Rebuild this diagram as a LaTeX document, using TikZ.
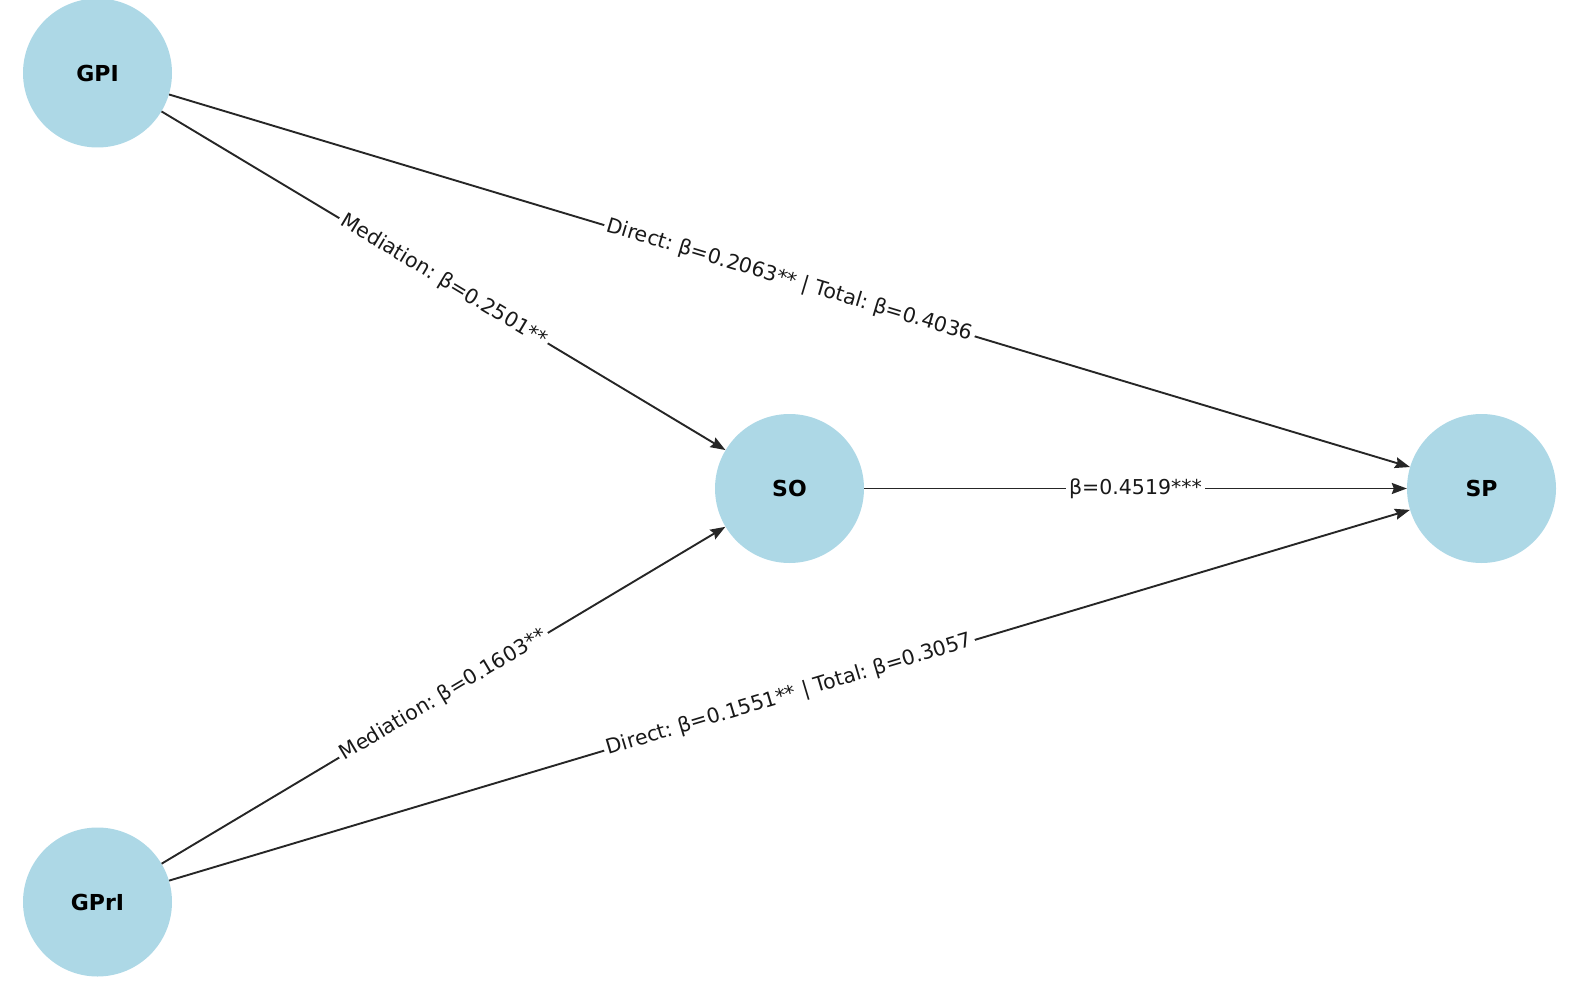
\documentclass[tikz,border=0pt]{standalone}
\usepackage{fontspec}
\setmainfont{DejaVu Sans}
\usepackage{xcolor}
\usepackage{tikz}
\usetikzlibrary{arrows.meta,positioning}
\definecolor{nodeblue}{RGB}{173,216,230}
\frenchspacing

\begin{document}
\begin{tikzpicture}[
    x=1pt, y=-1pt,
    var/.style={circle, fill=nodeblue, minimum size=149pt, inner sep=0pt,
                font=\fontsize{22}{26}\selectfont\bfseries},
    arr/.style={-{Stealth[length=15pt, width=11pt, inset=2pt]}, line width=1.9pt,
                black!85},
    lab/.style={fill=white, inner sep=3pt, sloped, midway,
                font=\fontsize{20.5}{24}\selectfont, text=black!90}
]
\useasboundingbox (0,0) rectangle (1574,1000);
\node[var] (gpi)  at (97.5,73)   {GPI};
\node[var] (so)   at (789.5,488.5) {SO};
\node[var] (sp)   at (1481.5,488.5) {SP};
\node[var] (gpri) at (97.5,902)  {GPrI};

\draw[arr] (gpi) -- node[lab]{Mediation: β=0.2501**} (so);
\draw[arr] (gpri) -- node[lab]{Mediation: β=0.1603**} (so);
\draw[arr] (gpi) -- node[lab]{Direct: β=0.2063** | Total: β=0.4036} (sp);
\draw[arr] (gpri) -- node[lab]{Direct: β=0.1551** | Total: β=0.3057} (sp);
\draw[arr] (so) -- node[lab]{β=0.4519***} (sp);
\end{tikzpicture}
\end{document}
